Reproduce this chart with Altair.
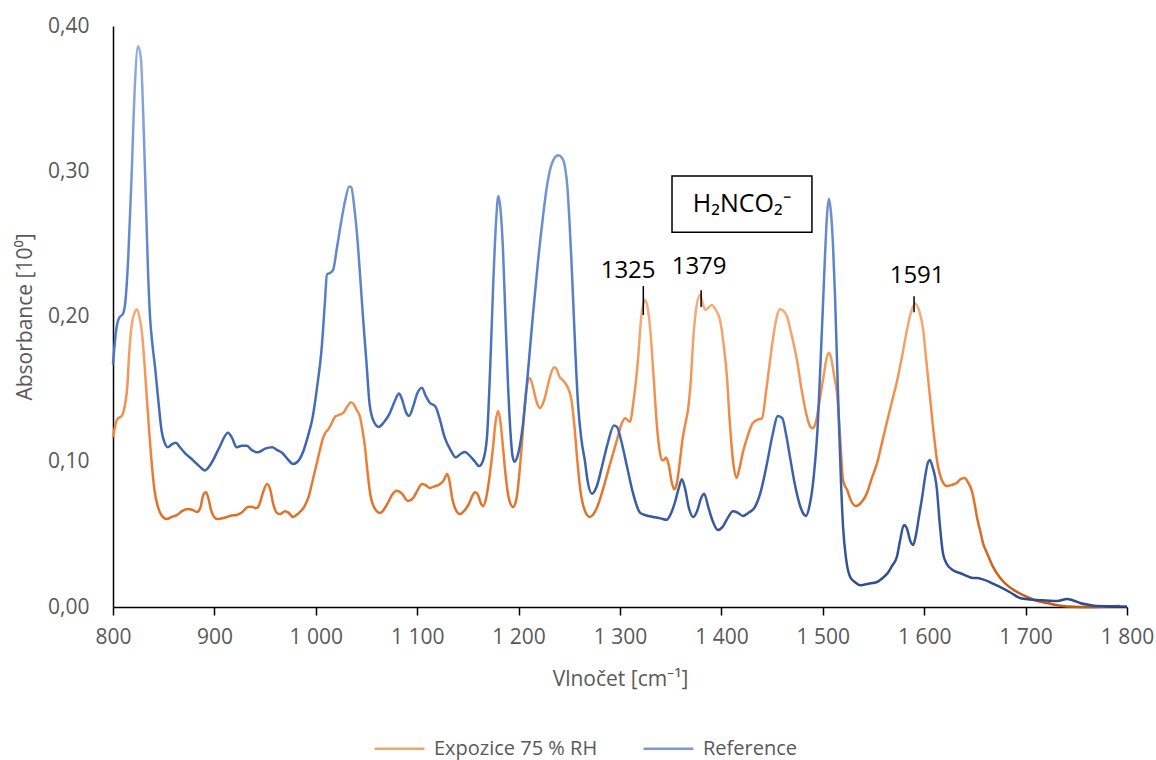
import altair as alt
import pandas as pd

# ---------------- data ----------------
ref_wn = [800, 803, 806, 810, 812, 815, 818.5, 821.5, 824.7, 827.5, 830, 832.5, 834.5, 836.5, 839, 841.5, 845, 848, 851, 854,
          858, 862, 866, 871, 879, 885, 890.7, 894, 898.6, 905, 913.4, 917, 922, 927, 932, 937, 943, 950, 957, 962,
          967, 972, 977.5, 982, 987, 992, 997, 1001, 1006, 1009, 1011, 1014, 1017, 1021, 1025, 1029, 1033, 1035, 1038, 1040.6,
          1043.5, 1046.5, 1050, 1053, 1057, 1062, 1067, 1073, 1078, 1082, 1085, 1089, 1092, 1096, 1100, 1104.7, 1108, 1112, 1118, 1122,
          1127, 1133, 1138, 1143, 1147, 1152, 1157, 1161, 1165, 1168.8, 1172, 1175, 1178, 1180, 1182, 1184.6, 1187, 1189.5, 1192, 1194,
          1196, 1199, 1204, 1209, 1214, 1219, 1224, 1228, 1233, 1239, 1243, 1246, 1248, 1250, 1252, 1254, 1256, 1258.6, 1262, 1265.5, 1268, 1272.4,
          1277, 1283, 1288, 1294, 1297, 1301, 1307, 1313, 1319.7, 1326, 1332.5, 1340, 1346, 1350, 1354, 1358, 1361, 1364, 1368, 1372,
          1376, 1380, 1383, 1387, 1391, 1396.6, 1401, 1406, 1411.4, 1416, 1421.3, 1427, 1433, 1439, 1445, 1450, 1455.8, 1460, 1464, 1467.7,
          1472, 1477, 1481, 1483.4, 1487, 1490, 1492.3, 1495, 1497, 1500, 1502, 1504, 1506, 1508, 1510, 1512, 1514, 1516, 1518,
          1520, 1523, 1527, 1532, 1537, 1545, 1553.5, 1559, 1564, 1568, 1573, 1576, 1580, 1583, 1586, 1589, 1592, 1595, 1598, 1601,
          1603.5, 1605.7, 1608, 1612.6, 1615, 1618.5, 1622, 1628, 1635, 1640, 1648, 1652, 1658, 1665, 1674.7, 1685, 1694.5, 1700, 1711, 1720,
          1731, 1741, 1747, 1753.6, 1762, 1770, 1785, 1800]
ref_abs = [0.167, 0.190, 0.199, 0.202, 0.209, 0.240, 0.300, 0.358, 0.386, 0.378, 0.335, 0.278, 0.232, 0.200, 0.180, 0.165, 0.140, 0.121, 0.113, 0.110,
           0.112, 0.113, 0.110, 0.106, 0.101, 0.097, 0.094, 0.096, 0.101, 0.110, 0.120, 0.117, 0.110, 0.111, 0.111, 0.108, 0.1065, 0.109, 0.110, 0.108,
           0.106, 0.102, 0.0985, 0.100, 0.106, 0.117, 0.131, 0.150, 0.180, 0.210, 0.229, 0.230, 0.232, 0.248, 0.265, 0.280, 0.2895, 0.289, 0.275, 0.257,
           0.230, 0.200, 0.168, 0.140, 0.128, 0.124, 0.127, 0.1335, 0.142, 0.147, 0.143, 0.134, 0.1315, 0.138, 0.147, 0.151, 0.146, 0.141, 0.138, 0.130,
           0.117, 0.108, 0.103, 0.1055, 0.1067, 0.104, 0.100, 0.097, 0.101, 0.117, 0.165, 0.223, 0.268, 0.283, 0.275, 0.246, 0.200, 0.154, 0.120, 0.104,
           0.100, 0.104, 0.124, 0.160, 0.200, 0.237, 0.2685, 0.290, 0.3057, 0.311, 0.309, 0.302, 0.290, 0.268, 0.240, 0.208, 0.175, 0.140, 0.115, 0.100, 0.087, 0.078,
           0.083, 0.099, 0.113, 0.125, 0.124, 0.115, 0.0964, 0.078, 0.065, 0.063, 0.062, 0.061, 0.060, 0.064, 0.0716, 0.082, 0.088, 0.082, 0.068, 0.062,
           0.066, 0.075, 0.078, 0.069, 0.060, 0.053, 0.055, 0.061, 0.066, 0.065, 0.0627, 0.065, 0.0688, 0.080, 0.099, 0.117, 0.1315, 0.130, 0.118, 0.103,
           0.086, 0.071, 0.064, 0.0627, 0.070, 0.083, 0.099, 0.125, 0.156, 0.205, 0.239, 0.268, 0.281, 0.272, 0.250, 0.215, 0.170, 0.125, 0.085,
           0.055, 0.033, 0.0207, 0.017, 0.015, 0.016, 0.0172, 0.020, 0.0234, 0.028, 0.0344, 0.045, 0.0565, 0.054, 0.046, 0.0427, 0.050, 0.063, 0.0757, 0.090,
           0.099, 0.1012, 0.097, 0.0805, 0.060, 0.037, 0.030, 0.0255, 0.0234, 0.022, 0.020, 0.020, 0.019, 0.017, 0.0138, 0.010, 0.0062, 0.0055, 0.0048, 0.0045,
           0.0041, 0.0055, 0.0045, 0.0028, 0.0015, 0.0007, 0.0005, 0.0003]

exp_wn = [800, 804, 809, 812, 814, 816, 818.7, 821, 823.7, 826, 828.6, 831, 833.5, 836, 838.5, 841, 844.4, 848, 853, 858,
          863, 868, 874, 878, 882.8, 886, 889, 891.7, 894, 897, 902.6, 907, 912.4, 917, 922, 927, 933, 937, 941, 944,
          948, 951.9, 955, 958, 961.7, 965, 969.6, 973, 977.5, 982, 988.4, 993, 997, 1001, 1004, 1007, 1010, 1013, 1016, 1019,
          1022, 1027, 1031, 1034.7, 1038, 1040, 1043.6, 1046, 1048.5, 1051, 1053.5, 1058, 1063.3, 1067, 1071, 1075, 1080, 1085, 1091, 1096,
          1100, 1104.7, 1108, 1112.6, 1117, 1122.5, 1126, 1129.4, 1131.5, 1134.3, 1138, 1142.2, 1146, 1151, 1154, 1157, 1160, 1163, 1165, 1168,
          1171, 1174.8, 1177, 1179.7, 1182, 1184.6, 1187, 1190, 1194.5, 1198, 1203, 1207, 1211, 1214, 1217, 1221, 1225, 1229, 1232, 1235,
          1238, 1240, 1243.8, 1248.7, 1252, 1255, 1258, 1261, 1265, 1270, 1277, 1283, 1290, 1297, 1301, 1305, 1310, 1313, 1317.7, 1321,
          1324.6, 1327, 1329.6, 1333, 1336.5, 1339, 1341.4, 1343, 1345.4, 1348, 1351, 1353.5, 1356, 1359, 1362, 1365, 1367, 1370, 1372, 1375,
          1379, 1382, 1384, 1387, 1390.7, 1394, 1398.6, 1402, 1405.5, 1408, 1411.4, 1415, 1418, 1421, 1426, 1431, 1436, 1440, 1444, 1448,
          1452, 1455, 1457.8, 1461, 1464.7, 1469, 1474.5, 1479, 1484.4, 1487, 1490, 1493, 1497, 1501, 1504, 1506, 1508, 1511, 1514, 1517,
          1520, 1524, 1528, 1532.7, 1538, 1543.6, 1548, 1553.5, 1558, 1563, 1568, 1573, 1578, 1583, 1587, 1591, 1595, 1599, 1602, 1605.7,
          1609, 1612.6, 1617, 1622.5, 1627, 1632, 1636, 1640, 1643, 1647, 1650, 1652, 1655, 1658, 1662, 1668, 1675, 1681.7, 1690, 1701.4,
          1710, 1721, 1731, 1741, 1755, 1766.5, 1780, 1793]
exp_abs = [0.117, 0.129, 0.132, 0.140, 0.151, 0.175, 0.1955, 0.202, 0.205, 0.200, 0.1886, 0.168, 0.1425, 0.118, 0.0964, 0.080, 0.0688, 0.063, 0.0606, 0.062,
           0.0633, 0.066, 0.0675, 0.067, 0.0654, 0.068, 0.077, 0.079, 0.075, 0.066, 0.0606, 0.061, 0.062, 0.063, 0.0633, 0.065, 0.0688, 0.069, 0.068, 0.070,
           0.079, 0.0847, 0.081, 0.071, 0.0647, 0.064, 0.066, 0.065, 0.062, 0.064, 0.0688, 0.076, 0.0874, 0.099, 0.108, 0.116, 0.1205, 0.123, 0.127, 0.131,
           0.132, 0.1336, 0.138, 0.141, 0.139, 0.136, 0.131, 0.122, 0.110, 0.093, 0.0785, 0.068, 0.0647, 0.067, 0.0716, 0.077, 0.080, 0.078, 0.073, 0.075,
           0.080, 0.0847, 0.084, 0.082, 0.083, 0.0847, 0.087, 0.0916, 0.088, 0.0757, 0.067, 0.064, 0.066, 0.071, 0.076, 0.079, 0.077, 0.071, 0.0695, 0.075,
           0.088, 0.110, 0.126, 0.135, 0.128, 0.110, 0.092, 0.076, 0.0688, 0.075, 0.110, 0.146, 0.1577, 0.152, 0.143, 0.137, 0.142, 0.153, 0.161, 0.165,
           0.163, 0.159, 0.156, 0.1508, 0.143, 0.125, 0.100, 0.080, 0.067, 0.062, 0.068, 0.0805, 0.098, 0.115, 0.125, 0.130, 0.1275, 0.140, 0.170, 0.200,
           0.2114, 0.207, 0.1928, 0.160, 0.124, 0.108, 0.1012, 0.101, 0.103, 0.098, 0.086, 0.081, 0.085, 0.100, 0.117, 0.128, 0.1356, 0.158, 0.182, 0.205,
           0.2148, 0.208, 0.2045, 0.206, 0.208, 0.205, 0.1976, 0.182, 0.158, 0.130, 0.101, 0.089, 0.096, 0.106, 0.118, 0.1267, 0.129, 0.130, 0.148, 0.170,
           0.190, 0.201, 0.205, 0.204, 0.200, 0.188, 0.170, 0.150, 0.131, 0.125, 0.123, 0.127, 0.1425, 0.160, 0.172, 0.175, 0.172, 0.160, 0.147, 0.118,
           0.087, 0.0805, 0.073, 0.0695, 0.072, 0.0785, 0.088, 0.099, 0.112, 0.1267, 0.141, 0.155, 0.172, 0.1907, 0.203, 0.209, 0.204, 0.1907, 0.170, 0.1446,
           0.122, 0.101, 0.088, 0.0833, 0.084, 0.0854, 0.088, 0.0888, 0.086, 0.080, 0.070, 0.062, 0.053, 0.044, 0.037, 0.0275, 0.020, 0.0151, 0.011, 0.0069,
           0.0045, 0.0028, 0.0012, 0.0003, 0.0, 0.0, 0.0003, 0.0007]

series_names = ["Expozice 75 % RH", "Reference"]
legend_colors = ["#F2A46E", "#7B9AD6"]

peak_labels = ["1325", "1379", "1591"]
peak_label_x = [1308, 1378, 1593]
peak_label_y = [0.2313, 0.2340, 0.2280]
peak_tick_x = [1323, 1380, 1590]
peak_tick_y1 = [0.201, 0.2065, 0.203]
peak_tick_y2 = [0.221, 0.218, 0.214]

box_text = ["H\u2082NCO\u2082\u207b"]
box_x = [1351.3]
box_x2 = [1489.3]
box_y = [0.258]
box_y2 = [0.2967]
box_tx = [1420]
box_ty = [0.2775]

x_ticks = [800, 900, 1000, 1100, 1200, 1300, 1400, 1500, 1600, 1700, 1800]
y_ticks = [0.0, 0.1, 0.2, 0.3, 0.4]

# ---------------- tables ----------------
df_ref = pd.DataFrame({"wn": ref_wn, "a": ref_abs})
df_exp = pd.DataFrame({"wn": exp_wn, "a": exp_abs})
df_leg = pd.DataFrame({"wn": [2000, 2000], "a": [0.0, 0.0], "s": series_names})
df_lab = pd.DataFrame({"x": peak_label_x, "y": peak_label_y, "t": peak_labels})
df_tick = pd.DataFrame({"x": peak_tick_x, "y": peak_tick_y1, "y2": peak_tick_y2})
df_box = pd.DataFrame({"x": box_x, "x2": box_x2, "y": box_y, "y2": box_y2,
                       "tx": box_tx, "ty": box_ty, "t": box_text})

FONT = "Open Sans"
GRAY = "#595959"

xscale = alt.Scale(domain=[800, 1800], nice=False, zero=False)
yscale = alt.Scale(domain=[0, 0.4], nice=False)

x_lab_expr = ("datum.value >= 1000 ? floor(datum.value / 1000) + ' ' + "
              "format(datum.value % 1000, '03d') : '' + datum.value")
y_lab_expr = "replace(format(datum.value, '.2f'), '.', ',')"

xaxis = alt.Axis(values=x_ticks, labelExpr=x_lab_expr, title="Vlnočet [cm\u207b\u00b9]",
                 grid=False, domainColor="black", domainWidth=1.5, tickColor="black",
                 tickWidth=1.5, tickSize=8, labelPadding=11, labelFontSize=21,
                 labelColor=GRAY, labelFont=FONT, titleFont=FONT, titleFontSize=21,
                 titleFontWeight="normal", titleColor=GRAY, titlePadding=21, labelFlush=False)
yaxis = alt.Axis(values=y_ticks, labelExpr=y_lab_expr, title="Absorbance [10\u2070]",
                 grid=False, domainColor="black", domainWidth=1.5, ticks=False,
                 labelPadding=24, labelFontSize=21, labelColor=GRAY, labelFont=FONT,
                 titleFont=FONT, titleFontSize=21, titleFontWeight="normal",
                 titleColor=GRAY, titlePadding=12)

orange_grad = alt.Gradient(gradient="linear", x1=0, x2=0, y1=0, y2=1, stops=[
    alt.GradientStop(offset=0, color="#F7B07C"),
    alt.GradientStop(offset=0.5, color="#EE8038"),
    alt.GradientStop(offset=1, color="#C25A14")])
blue_grad = alt.Gradient(gradient="linear", x1=0, x2=0, y1=0, y2=1, stops=[
    alt.GradientStop(offset=0, color="#93AEDF"),
    alt.GradientStop(offset=0.55, color="#4A74C4"),
    alt.GradientStop(offset=1, color="#2C4A8C")])

line_exp = alt.Chart(df_exp).mark_line(interpolate="monotone", strokeWidth=2.5, color=orange_grad).encode(
    x=alt.X("wn:Q", scale=xscale, axis=xaxis),
    y=alt.Y("a:Q", scale=yscale, axis=yaxis))
line_ref = alt.Chart(df_ref).mark_line(interpolate="monotone", strokeWidth=2.5, color=blue_grad).encode(
    x=alt.X("wn:Q", scale=xscale), y=alt.Y("a:Q", scale=yscale))

legend_layer = alt.Chart(df_leg).mark_line(strokeWidth=2.5, clip=True).encode(
    x=alt.X("wn:Q", scale=xscale), y=alt.Y("a:Q", scale=yscale),
    color=alt.Color("s:N", scale=alt.Scale(domain=series_names, range=legend_colors),
                    legend=alt.Legend(title=None, orient="none", direction="horizontal",
                                      legendX=260, legendY=696, symbolType="stroke",
                                      symbolSize=2500, symbolStrokeWidth=2.5,
                                      labelFont=FONT, labelFontSize=20, labelColor=GRAY,
                                      labelOffset=8, columnPadding=40, labelLimit=0)))

box = alt.Chart(df_box).mark_rect(fill="white", stroke="black", strokeWidth=1.5).encode(
    x=alt.X("x:Q", scale=xscale), x2="x2:Q", y=alt.Y("y:Q", scale=yscale), y2="y2:Q")
box_label = alt.Chart(df_box).mark_text(font=FONT, fontSize=25, color="black",
                                        align="center", baseline="middle").encode(
    x=alt.X("tx:Q", scale=xscale), y=alt.Y("ty:Q", scale=yscale), text="t:N")

peak_text = alt.Chart(df_lab).mark_text(font=FONT, fontSize=24, color="black",
                                        align="center", baseline="middle").encode(
    x=alt.X("x:Q", scale=xscale), y=alt.Y("y:Q", scale=yscale), text="t:N")
peak_ticks = alt.Chart(df_tick).mark_rule(color="black", strokeWidth=1.5).encode(
    x=alt.X("x:Q", scale=xscale), y=alt.Y("y:Q", scale=yscale), y2="y2:Q")

chart = alt.layer(line_exp, line_ref, legend_layer, box, box_label, peak_ticks, peak_text).properties(
    width=1014, height=581,
    autosize=alt.AutoSizeParams(type="none"),
    padding={"left": 113, "top": 26, "right": 29, "bottom": 153},
    background="white"
).configure_view(stroke=None)

chart.save("out.html", embed_options={"renderer": "svg", "actions": False})
